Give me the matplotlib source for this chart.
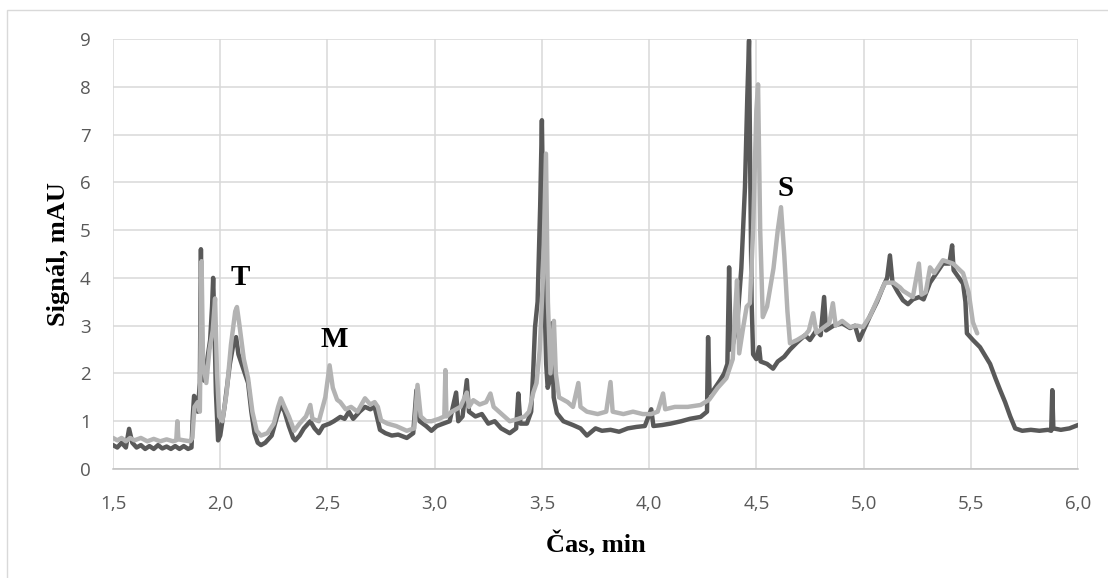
import matplotlib
matplotlib.use("Agg")
from matplotlib import pyplot as plt
from matplotlib.patches import Rectangle
from matplotlib.ticker import FuncFormatter, MultipleLocator

# dark trace (time in min, signal in mAU)
dark_t = [1.500, 1.520, 1.540, 1.560, 1.575, 1.590, 1.610, 1.630, 1.650, 1.670,
          1.690, 1.710, 1.730, 1.750, 1.770, 1.790, 1.810, 1.830, 1.850, 1.866,
          1.872, 1.878, 1.888, 1.895, 1.905, 1.910, 1.916, 1.925, 1.940, 1.953,
          1.962, 1.967, 1.973, 1.980, 1.990, 2.000, 2.020, 2.045, 2.065, 2.074,
          2.085, 2.100, 2.115, 2.130, 2.145, 2.160, 2.175, 2.190, 2.210, 2.240,
          2.265, 2.283, 2.300, 2.320, 2.340, 2.350, 2.370, 2.390, 2.410, 2.420,
          2.440, 2.460, 2.480, 2.510, 2.530, 2.560, 2.580, 2.600, 2.620, 2.650,
          2.675, 2.700, 2.720, 2.745, 2.770, 2.800, 2.830, 2.870, 2.900, 2.915,
          2.930, 2.960, 2.985, 3.010, 3.040, 3.070, 3.100, 3.110, 3.130, 3.150,
          3.160, 3.190, 3.220, 3.250, 3.280, 3.310, 3.350, 3.380, 3.390, 3.400,
          3.430, 3.450, 3.460, 3.468, 3.480, 3.492, 3.500, 3.510, 3.520, 3.527,
          3.540, 3.547, 3.555, 3.570, 3.600, 3.645, 3.680, 3.710, 3.750, 3.780,
          3.820, 3.860, 3.900, 3.940, 3.980, 4.010, 4.020, 4.060, 4.100, 4.150,
          4.190, 4.240, 4.270, 4.275, 4.282, 4.300, 4.330, 4.350, 4.365, 4.373,
          4.380, 4.390, 4.410, 4.430, 4.447, 4.458, 4.466, 4.472, 4.478, 4.485,
          4.500, 4.513, 4.520, 4.550, 4.578, 4.600, 4.630, 4.657, 4.690, 4.727,
          4.750, 4.780, 4.800, 4.816, 4.825, 4.860, 4.900, 4.937, 4.960, 4.980,
          5.000, 5.030, 5.063, 5.090, 5.110, 5.123, 5.135, 5.160, 5.184, 5.207,
          5.230, 5.260, 5.280, 5.310, 5.340, 5.370, 5.400, 5.413, 5.420, 5.445,
          5.464, 5.475, 5.482, 5.510, 5.543, 5.570, 5.590, 5.615, 5.637, 5.660,
          5.684, 5.707, 5.740, 5.780, 5.820, 5.860, 5.875, 5.880, 5.885, 5.920,
          5.960, 6.000]
dark_v = [0.50, 0.45, 0.55, 0.45, 0.84, 0.55, 0.45, 0.50, 0.42, 0.48,
          0.42, 0.50, 0.43, 0.47, 0.42, 0.48, 0.42, 0.48, 0.42, 0.45,
          1.10, 1.53, 1.45, 1.20, 1.80, 4.60, 2.00, 1.85, 2.30, 2.70,
          3.40, 4.00, 3.00, 1.60, 0.60, 0.70, 1.30, 2.20, 2.70, 2.76,
          2.40, 2.20, 2.00, 1.80, 1.20, 0.75, 0.55, 0.50, 0.55, 0.70,
          1.10, 1.35, 1.20, 0.90, 0.65, 0.60, 0.70, 0.85, 0.95, 1.00,
          0.85, 0.75, 0.90, 0.95, 1.00, 1.09, 1.05, 1.20, 1.05, 1.20,
          1.30, 1.25, 1.30, 0.82, 0.75, 0.70, 0.72, 0.65, 0.75, 1.65,
          1.00, 0.90, 0.80, 0.90, 0.95, 1.00, 1.60, 1.00, 1.10, 1.86,
          1.20, 1.10, 1.15, 0.95, 1.00, 0.85, 0.75, 0.85, 1.58, 0.95,
          0.95, 1.20, 2.10, 2.97, 3.50, 5.50, 7.30, 4.00, 2.20, 1.70,
          1.90, 3.05, 1.50, 1.17, 1.00, 0.92, 0.85, 0.70, 0.85, 0.80,
          0.82, 0.78, 0.85, 0.88, 0.90, 1.25, 0.90, 0.92, 0.95, 1.00,
          1.05, 1.09, 1.20, 2.76, 1.60, 1.65, 1.85, 2.00, 2.20, 4.22,
          2.50, 2.60, 3.00, 4.20, 5.90, 7.80, 8.97, 6.00, 3.50, 2.40,
          2.30, 2.55, 2.25, 2.20, 2.10, 2.25, 2.35, 2.50, 2.65, 2.80,
          2.70, 2.90, 2.80, 3.60, 2.90, 3.00, 3.05, 2.95, 3.00, 2.70,
          2.90, 3.20, 3.50, 3.80, 4.00, 4.47, 3.90, 3.70, 3.53, 3.45,
          3.55, 3.60, 3.55, 3.90, 4.10, 4.30, 4.30, 4.68, 4.16, 4.00,
          3.88, 3.50, 2.84, 2.70, 2.55, 2.35, 2.20, 1.90, 1.65, 1.40,
          1.10, 0.85, 0.80, 0.82, 0.80, 0.82, 0.80, 1.65, 0.85, 0.82,
          0.85, 0.92]

# light trace
light_t = [1.500, 1.520, 1.540, 1.560, 1.580, 1.600, 1.630, 1.660, 1.690, 1.720,
           1.750, 1.780, 1.795, 1.800, 1.805, 1.830, 1.860, 1.870, 1.880, 1.895,
           1.905, 1.913, 1.920, 1.935, 1.950, 1.965, 1.976, 1.985, 1.995, 2.010,
           2.030, 2.050, 2.070, 2.078, 2.090, 2.110, 2.130, 2.150, 2.170, 2.190,
           2.220, 2.250, 2.270, 2.283, 2.300, 2.320, 2.345, 2.370, 2.400, 2.420,
           2.430, 2.460, 2.490, 2.510, 2.525, 2.545, 2.560, 2.585, 2.610, 2.640,
           2.675, 2.700, 2.720, 2.735, 2.750, 2.780, 2.820, 2.870, 2.905, 2.920,
           2.935, 2.960, 2.985, 3.020, 3.045, 3.050, 3.055, 3.080, 3.120, 3.150,
           3.160, 3.180, 3.210, 3.240, 3.260, 3.275, 3.300, 3.350, 3.390, 3.420,
           3.440, 3.460, 3.475, 3.490, 3.505, 3.519, 3.528, 3.540, 3.556, 3.565,
           3.580, 3.620, 3.645, 3.670, 3.680, 3.710, 3.760, 3.800, 3.820, 3.830,
           3.880, 3.925, 3.970, 4.010, 4.040, 4.065, 4.075, 4.120, 4.180, 4.240,
           4.280, 4.320, 4.360, 4.390, 4.400, 4.410, 4.420, 4.440, 4.455, 4.470,
           4.485, 4.500, 4.508, 4.518, 4.530, 4.550, 4.580, 4.600, 4.615, 4.630,
           4.645, 4.657, 4.690, 4.727, 4.745, 4.765, 4.780, 4.810, 4.840, 4.857,
           4.870, 4.900, 4.937, 4.970, 4.997, 5.030, 5.063, 5.100, 5.140, 5.170,
           5.184, 5.230, 5.258, 5.270, 5.290, 5.310, 5.330, 5.370, 5.417, 5.464,
           5.490, 5.510, 5.530]
light_v = [0.65, 0.60, 0.65, 0.58, 0.65, 0.60, 0.65, 0.58, 0.63, 0.58,
           0.62, 0.58, 0.60, 1.00, 0.62, 0.60, 0.58, 0.65, 1.30, 1.40,
           1.20, 4.35, 2.20, 1.80, 2.50, 2.90, 3.57, 2.00, 1.10, 1.00,
           1.60, 2.60, 3.30, 3.39, 3.00, 2.30, 1.90, 1.20, 0.80, 0.70,
           0.75, 0.95, 1.30, 1.48, 1.30, 1.10, 0.80, 0.95, 1.10, 1.34,
           1.05, 1.00, 1.50, 2.17, 1.70, 1.45, 1.40, 1.25, 1.30, 1.20,
           1.48, 1.35, 1.40, 1.30, 1.02, 0.95, 0.90, 0.80, 0.85, 1.76,
           1.10, 1.00, 1.00, 1.05, 1.10, 2.07, 1.10, 1.20, 1.30, 1.60,
           1.30, 1.44, 1.35, 1.40, 1.58, 1.30, 1.20, 1.00, 1.05, 1.10,
           1.20, 1.60, 1.80, 2.50, 4.00, 6.60, 3.50, 2.00, 3.10, 2.00,
           1.50, 1.40, 1.30, 1.80, 1.30, 1.20, 1.15, 1.20, 1.82, 1.20,
           1.15, 1.20, 1.15, 1.15, 1.20, 1.58, 1.25, 1.30, 1.30, 1.34,
           1.45, 1.70, 1.90, 2.30, 3.20, 3.95, 2.42, 3.00, 3.40, 3.47,
           5.00, 7.50, 8.05, 5.00, 3.18, 3.40, 4.20, 5.00, 5.48, 4.50,
           3.30, 2.63, 2.70, 2.80, 2.90, 3.26, 2.85, 2.95, 3.05, 3.47,
           3.00, 3.10, 2.97, 3.00, 2.97, 3.20, 3.53, 3.90, 3.90, 3.80,
           3.73, 3.60, 4.30, 3.65, 3.70, 4.22, 4.10, 4.37, 4.30, 4.10,
           3.70, 3.07, 2.84]

peak_labels = ["T", "M", "S"]
peak_t = [2.093, 2.53, 4.634]
peak_v = [4.0, 2.72, 5.88]

fig = plt.figure(figsize=(11.08, 5.78), dpi=100)
ax = fig.add_axes([113 / 1108, 1 - 469 / 578, 965 / 1108, 430 / 578])

# light gray frame of the chart area (only left/top edges visible)
fig.patches.append(Rectangle((7 / 1108, -0.2), 1.2, 1.2 - 10 / 578,
                             transform=fig.transFigure, fill=False,
                             edgecolor='#d9d9d9', linewidth=1.0))

ax.plot(dark_t, dark_v, color='#595959', linewidth=3.2, zorder=3,
        solid_joinstyle='round', solid_capstyle='round')
ax.plot(light_t, light_v, color='#b3b3b3', linewidth=3.2, zorder=4,
        solid_joinstyle='round', solid_capstyle='round')

for lab, t, v in zip(peak_labels, peak_t, peak_v):
    ax.text(t, v, lab, family='Liberation Serif', fontweight='bold',
            fontsize=21, ha='center', va='center', zorder=5)

ax.set_xlim(1.5, 6.0)
ax.set_ylim(0, 9)
ax.xaxis.set_major_locator(MultipleLocator(0.5))
ax.yaxis.set_major_locator(MultipleLocator(1))
ax.xaxis.set_major_formatter(FuncFormatter(lambda x, p: f"{x:.1f}".replace('.', ',')))
ax.grid(True, color='#d9d9d9', linewidth=1.1, zorder=0)
ax.set_axisbelow(True)

for s in ['top', 'right', 'left']:
    ax.spines[s].set_visible(False)
ax.spines['bottom'].set_color('#bfbfbf')
ax.spines['bottom'].set_linewidth(1.1)

ax.tick_params(axis='both', length=0, labelsize=13.5, labelcolor='#595959')
ax.tick_params(axis='x', pad=19)
ax.tick_params(axis='y', pad=16)
for lbl in ax.get_xticklabels() + ax.get_yticklabels():
    lbl.set_family('Open Sans')

ax.set_xlabel("Čas, min", family='Liberation Serif', fontweight='bold', fontsize=19)
ax.set_ylabel("Signál, mAU", family='Liberation Serif', fontweight='bold', fontsize=19)
ax.xaxis.set_label_coords(0.5, (469 - 544) / 430)
ax.xaxis.label.set_va('center')
ax.yaxis.set_label_coords((58 - 113) / 965, 0.5)
ax.yaxis.label.set_va('center')

plt.savefig('out.png', dpi=100)
